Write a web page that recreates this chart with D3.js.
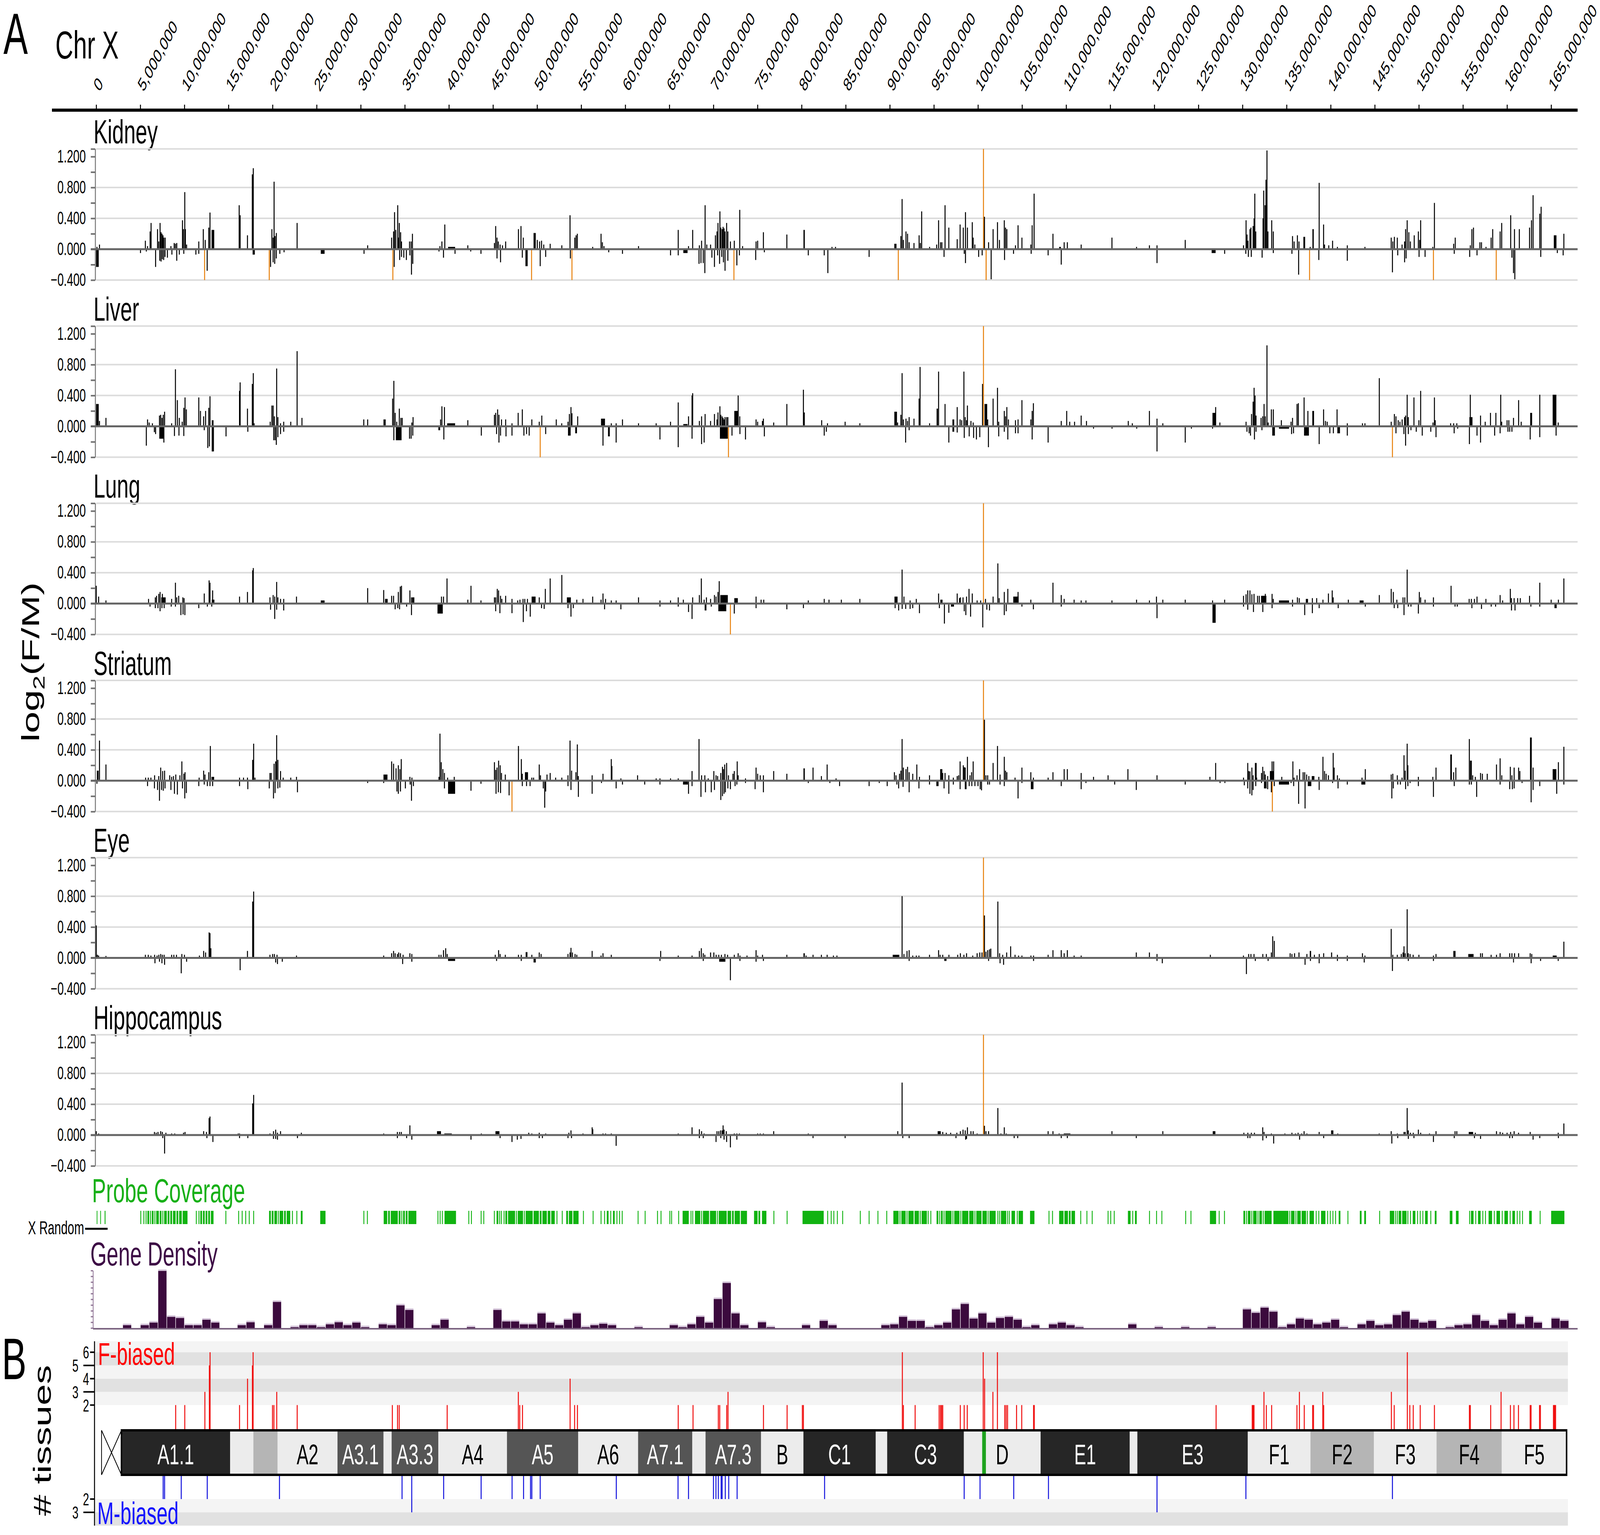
<!DOCTYPE html>
<html>
<head>
<meta charset="utf-8">
<script src="https://cdn.jsdelivr.net/npm/d3@7"></script>
<style>
html, body { margin: 0; padding: 0; width: 100%; height: 100%; overflow: hidden; background: #fff; }
#chart svg { display: block; width: 100vw; height: 100vh; }
text { font-family: "Liberation Sans", Arial, sans-serif; }
</style>
</head>
<body>
<div id="chart"></div>
<script>
"use strict"

// log2(F/M) per probe: [position Mb, value, optional span Mb]. values outside -0.4..1.3 are clipped (orange)
const kidney = [
[0.13,-0.23,0.3],[0.08,0.03],[0.37,0.06],[5.02,-0.05],[5.57,0.11],[5.68,-0.03],[5.82,0.04],[6.11,0.23],[6.22,0.34],[6.73,-0.23],[6.95,0.26],[7.09,0.1],[7.24,0.34],[7.35,0.22],[7.46,0.2],[7.57,0.18],[7.67,0.15],[7.82,0.15],
[7.2,-0.15],[7.35,-0.16],[7.5,-0.13],[7.65,-0.14],[7.8,-0.1],[8.07,-0.11],[8.47,0.04],[8.58,-0.07],[8.84,0.08],[8.98,0.07],[9.13,0.08],[9.13,-0.15],[9.42,-0.07],[9.78,0.375],[9.89,0.26],[10.04,0.74],[10.11,0.26],[10.25,0.06],[9.93,-0.06],
[11.3,-0.07],[11.63,0.1],[11.63,-0.06],[12.14,0.26],[12.29,-0.6],[12.36,0.12],[12.58,-0.28],[12.76,0.28],[12.9,0.475],[13.23,0.25,0.3],
[16.21,0.57],[16.32,0.44],[17.15,0.18],[17.7,0.97],[17.81,1.05],[17.86,-0.07,0.25],
[19.62,-0.6],[19.77,-0.23],[19.92,0.26],[20.06,0.15],[20.06,-0.17],[20.17,0.875],[20.24,-0.19],[20.28,0.17],[20.42,0.21],[20.42,-0.12],[20.82,-0.06],[21.3,-0.04],[22.78,0.34],
[25.68,-0.06,0.43],[30.37,-0.06],[30.78,0.05],
[33.5,0.15],[33.64,-0.6],[33.72,0.23],[33.79,-0.23],[33.83,0.48],[33.97,0.25],[34.19,0.57],[34.26,0.15],[34.37,0.34],[34.41,-0.14],[34.52,0.22],[34.62,0.1],[34.62,-0.1],[34.88,-0.11],[35.17,-0.14],[35.53,0.1],[35.57,-0.08],[35.71,0.1],[35.75,-0.33],[35.86,0.2],[35.9,-0.19],
[38.87,-0.03],[38.98,0.04],[39.2,0.1],[39.38,-0.11],[39.53,0.32],[40.3,0.03,0.8],[40.69,-0.06],[42.14,0.05],[42.47,-0.03],[43.63,-0.06],
[45.16,0.08],[45.3,0.3],[45.45,0.15],[45.45,-0.12],[45.6,0.1],[45.8,0.06],[45.85,-0.17],[46.07,0.05],[46.43,0.1],
[47.88,0.26],[48.17,0.3],[48.32,-0.11],[48.43,0.15],[48.8,-0.22,0.25],[49.37,-0.6],[49.72,0.21,0.25],[50.02,0.12],[50.28,0.1],[50.35,-0.22],[50.5,0.11],[50.75,0.06],[50.97,-0.1],[51.48,0.07],[52.8,0.05],
[53.73,0.44],[53.77,-0.12],[53.95,-0.6],[54.27,0.15],[54.42,0.18],[54.56,0.2],[56.3,0.03],
[57.25,0.2],[57.4,0.09],[57.58,0.04],[58.12,-0.04],[59.68,-0.06],[61.5,0.04],[65.13,-0.08],[66.0,0.25],[66.0,-0.08],[66.82,-0.05,0.48],[67.17,0.04],[67.64,0.25],
[68.36,-0.19],[68.4,0.05],[68.58,-0.18],[68.65,0.11],[68.84,-0.18],[69.02,-0.31],[69.05,0.57],[69.24,0.06],[69.67,0.06],[69.82,-0.11],[70.11,-0.23],[70.22,0.18],[70.4,0.23],[70.47,-0.08],[70.51,0.34],[70.69,-0.19],[70.73,0.49],[70.83,0.28],[70.94,-0.1],[70.98,0.26],[71.09,0.29],[71.13,-0.17],[71.2,0.27],[71.31,0.23],[71.31,-0.28],[71.49,0.34],[71.63,0.23],[71.63,-0.15],[71.92,0.1],[72.32,-0.6],[72.36,0.11],[72.65,-0.21],[72.94,-0.08],[72.98,0.51],[73.3,0.04],
[74.79,-0.14],[74.83,0.1],[75.01,0.11],[75.66,0.22],[75.77,-0.04],[78.32,0.19],[80.28,0.25,0.15],[80.75,-0.08],[82.56,-0.08],[82.97,-0.31],[83.44,0.03],[83.84,0.03],[87.65,-0.1],
[90.63,0.07,0.25],[90.96,-0.6],[91.25,0.17],[91.39,0.65],[91.54,0.12],[91.83,0.23],[92.01,0.2],[92.19,0.09],[92.74,0.08],[93.32,0.18],[93.46,0.08],[93.61,0.49],[94.51,0.03],
[95.31,0.06],[95.53,0.375],[95.75,0.09],[95.9,0.09],[96.15,-0.1],[96.26,0.57],[96.69,0.28],[97.64,0.13],[97.97,0.32],[98.33,0.28],[98.44,-0.06],[98.58,0.48],[98.58,-0.18],[98.8,0.28],[99.35,0.35],[99.45,0.15],[99.64,0.06],[100.07,-0.1],[100.47,-0.08],[100.62,1.6],[100.73,0.42],[100.92,-0.6,0.12],
[101.2,0.09],[101.49,-0.39],[101.71,0.26],[102.21,0.35],[102.43,0.12],[102.98,0.375],[103.01,-0.14],[103.12,0.28],[103.27,0.26],[104.03,-0.06],[104.25,0.05],[104.54,0.31],[104.98,0.15],[105.99,0.06],[106.03,-0.06],[106.14,0.31],[106.36,0.72],
[107.95,-0.08],[108.5,0.2],[109.3,0.03,0.2],[109.44,-0.2],[109.77,0.09],[110.13,0.09],[111.7,0.06],
[115.19,0.15],[117.98,0.03],[119.44,0.05],[120.3,0.05],[120.3,-0.18],[123.5,0.12],[126.72,-0.05,0.45],[127.97,-0.06],
[130.11,0.05],[130.37,-0.06],[130.4,0.375],[130.51,0.19],[130.62,0.11],[130.66,-0.1],[130.84,0.26],[130.95,0.28],[130.99,-0.1],[131.2,0.3],[131.31,0.4],[131.39,0.72],[131.5,0.23],[132.22,-0.11],[132.33,0.4],[132.4,0.76],[132.55,0.57],[132.66,0.9],[132.77,1.28],[132.88,0.23],[133.31,0.375],[133.49,0.23],[133.49,-0.05],
[135.6,-0.06],[135.67,0.17],[135.85,0.1],[136.22,0.18],[136.36,-0.33],[136.4,0.1],[137.0,0.16,0.2],[137.6,-0.6],[137.67,0.03],[138.0,0.26,0.15],[138.65,-0.14],[138.69,0.86],[139.19,0.32],[139.3,0.06],[139.78,0.05],[140.21,0.11],[140.76,0.03],[141.88,0.05],[141.88,-0.15],[143.88,0.03],
[146.86,0.15],[147.0,-0.3],[147.04,0.1],[147.22,0.16],[147.55,0.15],[147.6,-0.08],[148.09,0.06],[148.38,0.1],[148.38,-0.17],[148.49,0.26],[148.55,-0.12],[148.67,0.375],[148.86,0.22],[149.04,0.1],[149.47,0.18],[149.94,0.23],[150.02,-0.1],[150.09,0.12],[150.2,0.375],[150.7,-0.1],[151.58,0.03],[151.65,-0.6],[151.76,0.6],
[153.94,0.07],[154.01,-0.06],[154.12,0.15],[155.76,-0.1],[155.83,0.05],[156.01,0.26],[156.19,0.28],[156.59,-0.08],[156.92,0.09],[157.1,0.09],[157.61,0.03],[158.19,0.15],[158.37,0.26],[158.77,-0.6],[159.21,0.23],[159.39,0.34],[160.41,0.44],[160.55,-0.11],[160.73,-0.31],[160.84,0.26],[160.88,-0.39],[161.39,0.26],[162.55,0.28],[162.77,0.375],[162.95,0.7],[163.71,0.46],[163.82,-0.1],[163.86,0.55],[165.45,0.18,0.3],[165.7,-0.05],[166.36,-0.08],[166.44,0.2]
];

const liver = [
[0.13,0.29,0.3],[0.37,0.07],[1.1,0.11],[5.68,-0.25],[5.82,0.09],[6.0,0.05],[6.37,0.04],[6.59,-0.075],[6.73,-0.1],[7.17,0.14],[7.31,0.15],[7.46,0.11],[7.6,0.15],[7.75,0.19],[7.4,-0.16,0.5],[7.67,-0.21],
[8.55,0.04],[8.87,-0.125],[8.98,0.74],[9.2,0.34],[9.38,-0.12],[9.42,0.11],[9.75,0.06],[9.93,0.24],[9.93,-0.125],[10.07,0.375],[10.22,0.22],
[11.63,0.375],[11.82,0.2],[12.18,0.13],[12.25,-0.05],[12.4,0.2],[12.65,-0.28],[12.76,0.24],[12.83,-0.26],[12.9,0.39],[13.2,0.08,0.2],[13.22,-0.325,0.25],[14.72,-0.13],
[16.25,0.46],[16.32,0.57],[17.15,0.23],[17.19,-0.07],[17.7,0.55],[17.81,0.69],[17.9,0.04],
[19.73,0.06],[19.92,0.27],[20.06,0.27],[20.13,-0.18],[20.2,0.13],[20.28,-0.18],[20.42,-0.24],[20.46,0.75],[20.6,0.12],[20.6,-0.14],[20.9,0.04],[20.9,-0.1],[21.26,0.06],[21.26,-0.07],[22.06,0.06],[22.78,0.975],[23.33,0.11],
[30.34,0.09],[30.78,0.09],[32.7,0.09,0.25],[33.61,0.36],[33.75,0.59],[33.75,-0.18],[33.9,0.175],[34.08,0.06],[34.3,-0.18,0.65],[34.37,0.23],[34.55,0.11],[34.7,0.11],[35.53,-0.16],[35.71,-0.16],[35.79,0.05],[35.9,-0.12],[35.93,0.12],
[38.9,-0.05,0.2],[39.05,0.09],[39.2,0.26],[39.42,-0.17],[39.49,0.25],[40.25,0.04,0.9],[42.14,0.08],[43.67,-0.12],
[45.16,0.15],[45.3,0.175],[45.52,0.22],[45.67,0.15],[45.67,-0.21],[45.4,-0.1],[45.85,-0.12],[45.96,0.09],[46.43,0.09],[46.47,-0.13],[47.15,0.04],[47.15,-0.12],[47.85,0.175],[48.32,0.22],[48.5,-0.12],[48.8,-0.1],[49.1,-0.12],[49.4,0.09],[50.24,0.06],[50.35,-0.6],[50.53,0.14],[50.97,-0.1],[52.17,0.09],[52.79,0.04],
[53.5,0.06],[53.66,0.16],[53.65,-0.12,0.3],[53.84,0.25],[53.95,0.17],[54.42,-0.09,0.2],[54.6,0.13],
[57.47,0.1,0.45],[57.47,-0.25],[58.14,-0.13,0.2],[58.41,0.04],[58.96,0.04],[58.96,-0.21],[59.68,0.09],[61.5,0.04],[63.5,0.04],[63.93,-0.17],[65.13,0.06],[66.0,0.31],[66.0,-0.27],[66.82,0.03,0.48],[67.17,0.13],[67.57,0.4],[67.64,0.43],[67.57,-0.16],
[68.4,0.07],[68.65,0.13],[68.65,-0.23],[68.94,-0.21],[69.05,0.16],[69.67,0.07],[70.11,0.16],[70.4,0.09],[70.51,0.18],[70.73,0.26],[70.83,0.15],[70.98,0.13],[71.09,0.11],[71.2,0.09],[71.31,0.12],[71.49,0.12],[71.63,0.12],[71.18,-0.16,0.9],[71.7,-0.6],[72.1,-0.12],[72.56,0.2,0.4],[72.8,0.4],[72.98,0.13],[73.0,-0.1],[73.63,-0.17],
[74.83,0.09],[75.01,0.06],[75.55,0.07],[75.66,0.1],[75.77,-0.13],[76.83,0.05],[78.32,0.29],[80.2,0.475],[80.3,0.18],[82.27,0.08],[82.56,-0.12],[82.8,-0.07],[82.93,0.04],[84.93,0.06],[86.6,0.04],
[90.66,0.19,0.3],[90.88,0.05],[91.25,0.15],[91.39,0.69],[91.54,0.09],[91.79,-0.21],[91.83,0.1],[92.01,0.07],[92.19,0.12],[92.19,-0.05],[92.74,0.1],[93.32,0.36],[93.43,0.77],[94.51,0.04],
[95.38,0.23,0.15],[95.53,0.71],[96.26,0.29],[96.69,-0.21],[97.2,0.09,0.2],[97.2,-0.07,0.2],[97.64,0.25],[97.64,-0.08],[97.97,0.09],[98.15,0.08],[98.4,0.71],[98.44,-0.15],[98.55,0.12],[98.7,0.08],[98.8,0.27],[99.0,-0.13],[99.2,0.07],[99.45,0.05],[99.5,-0.15],[99.82,-0.17],[100.2,-0.14],[100.51,0.55],[100.62,1.6],[100.89,0.29,0.3],[101.1,0.09],[101.18,-0.27],[101.71,0.36],[102.21,0.5],[102.35,0.06],[102.35,-0.13],[102.98,0.2],[102.98,-0.07],[103.12,0.13],[103.27,0.25],[103.38,-0.17],[103.45,0.09],[104.25,0.08],[104.25,-0.09],[104.54,0.09],[104.54,-0.09],[104.98,0.34],[105.99,0.09],[106.14,0.2],[106.14,-0.17],[106.28,0.3],[107.95,-0.21],
[109.44,0.07],[110.06,0.2],[110.4,0.06],[110.95,0.06],[111.7,0.14],[112.3,0.07],
[113.1,-0.03],[115.2,-0.03],[117.04,0.07],[117.5,0.04],[118.0,-0.03],[119.44,0.2],[120.3,0.1],[120.3,-0.325],[120.96,0.04],[123.5,-0.21],[124.2,-0.03],[126.77,0.175,0.36],[126.95,0.25],[126.6,-0.03],[127.43,0.05],
[130.4,0.06],[130.5,-0.07],[130.75,-0.09],[130.9,-0.12],[131.02,0.16],[131.2,0.32],[131.31,0.5],[131.35,-0.17],[131.42,0.4],[131.53,0.14],[131.53,-0.07],[132.1,0.11],[132.2,-0.05],[132.29,0.13],[132.44,0.29],[132.58,0.13],[132.77,1.05],[132.91,0.05],[133.27,0.22],[133.49,0.22],[133.52,-0.12,0.3],[134.4,0.08],[134.7,-0.03,1.15],[135.5,0.06],[135.56,-0.1],[135.67,0.11],[135.78,-0.09],
[136.18,0.29],[136.33,0.3],[136.98,0.375],[137.25,-0.12,0.55],[137.41,0.2],[138.01,0.2,0.2],[138.69,-0.23],[139.19,0.22],[139.4,0.07],[139.6,0.06],[139.9,-0.09],[140.3,-0.09],[140.72,0.22],[140.9,-0.09,0.3],[141.88,0.04],[141.88,-0.12],[143.6,0.04],[143.88,0.04],[145.51,0.625],
[146.86,0.06],[147.0,-0.6],[147.22,0.16],[147.4,0.13],[147.4,-0.09],[147.65,0.08],[147.85,0.06],[148.1,0.09],[148.3,-0.1],[148.38,0.12],[148.49,0.14],[148.49,-0.25],[148.67,0.41],[148.8,0.12],[148.8,-0.1],[149.1,-0.05],[149.44,0.375],[149.7,-0.07],[150.0,0.08],[150.2,0.46],[150.38,-0.12],[151.35,-0.07],[151.6,0.05],[151.76,0.375],[151.85,0.08],[151.94,-0.14],
[153.6,0.04],[153.94,0.04],[154.0,-0.09],[154.3,0.04],[154.4,-0.03],[155.73,-0.23],[155.83,0.41],[155.9,0.12,0.35],[156.59,-0.12],[156.99,0.14],[156.99,-0.21],[157.52,0.06],[158.12,0.175],[158.59,-0.12],[158.73,0.175],[159.21,-0.09],[159.28,0.41],[159.39,0.06],[160.0,0.08],[160.1,-0.07],[160.2,0.08],[160.3,-0.07],[160.55,-0.07],[160.73,0.11],[161.31,0.34],[161.6,0.06],[162.62,-0.17],[162.73,0.175,0.22],[163.71,0.41],[163.71,-0.14],[165.38,0.41,0.42],[165.56,-0.12],[165.8,0.05]
];

const lung = [
[0.0,0.23],[0.27,0.09],[1.1,0.04],[5.93,0.06],[6.7,0.08],[6.84,0.1],[7.09,0.125],[7.24,0.15],[7.62,0.08,0.5],[7.5,0.125],[8.55,0.06],[8.98,0.27],[9.13,0.08],[9.35,0.1],[9.82,0.08],[9.96,0.07],
[6.1,-0.04],[6.7,-0.06],[7.0,-0.06],[7.24,-0.1],[7.45,-0.06],[7.7,-0.06],[8.5,-0.04],[8.98,-0.04],[9.6,-0.15],[9.85,-0.14],[10.05,-0.15],[11.63,-0.06],[12.6,-0.04],[13.1,-0.04],
[12.25,0.13],[12.8,0.3],[12.9,0.27],[13.25,0.05,0.3],[13.2,0.17],[16.25,0.09],[17.15,0.15],[17.74,0.43],[17.81,0.46],[19.7,0.08],[19.77,-0.08],[20.06,0.11],[20.24,0.09],[20.24,-0.2],[20.46,0.28],[20.46,-0.08],[20.6,0.08],[20.9,0.06],[21.26,0.06],[21.26,-0.09],[22.71,0.09],
[25.68,0.04,0.43],[30.78,0.2],[32.6,0.175],[32.9,0.06,0.3],[33.5,0.1],[33.72,0.1],[34.26,0.15],[34.48,0.22],[34.62,0.23],[33.9,-0.075],[34.2,-0.06],[34.4,-0.075],[35.2,-0.04],[35.57,0.17],[35.75,0.08],[35.75,-0.15],[35.95,0.08,0.25],
[39.0,-0.13,0.6],[39.15,0.09],[39.38,0.09],[39.78,0.325],[42.14,0.05],[42.5,0.23],[43.63,0.04],
[45.16,0.08],[45.3,0.08],[45.3,-0.1],[45.48,0.19],[45.63,0.17],[45.78,-0.125],[45.85,0.1],[46.0,0.06],[46.43,0.1],[47.15,0.06],[47.15,-0.125],[47.8,0.04],[48.05,0.05],[48.43,-0.24],[48.4,0.06],[48.6,0.06],[48.79,-0.1],[48.9,0.06],[49.22,-0.17],[49.6,0.09,0.45],[50.24,0.08],[50.5,-0.06],[50.8,-0.07],[50.93,0.19],[51.48,0.325],[52.8,0.37],
[53.5,-0.06],[53.6,0.08,0.45],[53.84,-0.17],[54.1,-0.06],[54.5,0.05],[55.2,0.06],[56.3,0.09],
[57.25,0.05],[57.47,0.13],[57.65,-0.075],[57.76,0.06],[58.41,0.04],[58.96,0.04],[59.5,-0.075],[61.5,0.08],[63.93,0.04],[63.93,-0.04],[65.13,0.04],[66.0,0.08],[66.0,-0.04],[66.58,0.05],[67.17,-0.11],[67.64,0.08],[67.57,-0.2],
[68.4,0.11],[68.62,0.325],[68.94,0.05],[69.1,-0.09,0.2],[69.2,0.08],[69.67,0.06],[69.75,-0.04],[70.11,0.11],[70.29,0.09],[70.51,0.15],[70.65,0.29],[71.2,0.11,0.85],[71.0,-0.1,0.9],[71.92,-0.6],[72.36,-0.13],[72.56,0.07,0.4],
[74.83,0.09],[74.83,-0.06],[75.4,0.05],[75.7,0.05],[78.32,-0.075],[80.2,-0.06],[80.75,0.04],[82.56,0.06],[83.1,0.05],[84.5,0.05],[86.6,0.06],
[90.7,0.09,0.35],[90.6,-0.06],[91.0,-0.09],[91.39,0.44],[91.6,0.09],[91.4,-0.07],[91.8,-0.07],[92.3,0.04],[92.3,-0.07],[92.6,-0.06],[93.0,0.06],[93.36,-0.125],
[95.53,0.13],[95.62,-0.06],[95.85,0.05,0.25],[96.19,-0.26],[96.69,-0.12],[97.1,-0.04,0.35],[97.64,0.13],[97.9,0.07],[98.0,0.08],[98.3,0.08],[98.44,-0.1],[98.62,-0.15],[98.7,0.09],[98.98,0.19],[99.16,-0.17],[99.35,0.13],[99.9,0.04],[100.3,0.04],[100.54,-0.31],[100.62,1.6],[100.85,0.06],[101.0,-0.08],[101.3,-0.09],[101.71,0.09],[102.25,0.52],[102.4,0.07],[102.98,0.15],[102.98,-0.15],[103.2,-0.1],[103.38,0.19],[104.3,0.09,0.6],[104.54,0.15],[104.98,-0.04],[105.99,0.05],[106.28,-0.075],
[108.5,0.27],[109.44,0.11],[109.44,-0.04],[109.77,0.06],[110.9,0.05],[111.7,0.04],
[112.24,0.04],[115.19,0.04],[117.98,0.05],[119.44,0.04],[120.24,0.09],[120.3,-0.19],[120.96,0.05],[123.5,0.05],[126.6,0.04],[126.77,-0.25,0.36],[127.97,0.05],
[130.11,0.1],[130.11,-0.04],[130.4,0.12],[130.59,0.17],[130.59,-0.08],[130.84,0.17],[131.06,0.12],[131.24,-0.11],[131.3,0.125],[131.7,0.1],[131.9,0.1],[132.3,-0.11],[132.4,0.1,0.6],[132.58,0.125],[133.35,0.125],[133.35,-0.06],[133.49,0.06],[134.7,0.04,1.15],[135.67,0.05],[135.67,-0.04],[136.22,0.08],[136.43,0.07],[137.05,-0.15],[137.3,0.06,0.25],[137.92,0.07],[137.92,-0.125],[138.41,0.07],[138.69,-0.06],[139.12,0.05],[139.74,0.13],[140.17,0.17],[140.28,0.08],[140.85,-0.06],[142.0,0.05],[143.5,0.04,0.45],[143.92,-0.04],
[145.51,0.11],[146.86,0.19],[147.1,0.15],[147.2,-0.06],[147.5,0.05],[147.6,-0.06],[148.2,0.08],[148.31,-0.15],[148.4,0.08],[148.67,0.44],[148.8,-0.04],[149.1,-0.04],[150.05,0.15],[150.2,0.08],[149.94,-0.13],[150.7,0.05],[151.65,0.08],[151.65,-0.04],[153.65,0.23],[154.1,-0.04],[154.35,-0.04],
[155.7,0.06],[155.95,0.06],[156.01,-0.06],[156.3,0.06],[156.59,0.09],[157.1,-0.07],[157.6,0.06],[158.2,-0.04],[158.7,-0.04],[159.21,0.11],[159.5,0.04],[160.37,0.19],[160.5,0.07],[160.5,-0.09],[160.8,0.07],[160.9,-0.09],[161.2,0.07],[161.5,0.07],[162.55,0.1],[162.7,-0.04],[163.71,0.27],[163.71,-0.04],[165.0,0.05],[165.5,-0.06,0.25],[165.82,0.05],[166.44,0.325]
];

const striatum = [
[0.17,0.13,0.2],[0.37,0.52],[1.1,0.21],[0.08,-0.04],[5.6,0.04],[5.9,0.04],[6.2,0.04],[5.82,-0.07],[6.62,0.07],[7.09,0.06],[7.31,0.17],[7.53,0.125],[7.75,0.13],[6.6,-0.1],[6.95,-0.12],[7.17,-0.26],[7.4,-0.12],[7.6,-0.13],[7.8,-0.1],
[8.33,0.07],[8.55,0.05],[8.76,0.06],[8.47,-0.12],[8.87,-0.17],[9.02,0.08],[9.2,-0.18],[9.49,0.07],[9.71,0.25],[9.78,-0.1],[9.93,0.09],[10.04,-0.23],[10.07,0.11],[10.22,-0.16],[11.63,-0.07],[11.67,0.04],
[12.18,0.13],[12.25,-0.05],[12.33,0.08],[12.76,0.11],[12.94,0.45],[12.6,-0.07],[12.9,-0.07],[13.2,-0.07],[13.22,0.05,0.3],[16.25,0.04],[16.25,-0.07],[16.7,0.04],[17.15,0.04],[17.19,-0.11],[17.74,0.27],[17.85,0.48],[18.0,0.04],
[19.7,0.1],[19.84,0.1],[19.62,-0.1],[20.1,-0.23],[20.17,0.22],[20.28,-0.16],[20.35,0.25],[20.46,0.59],[20.6,0.27],[20.6,-0.1],[20.9,0.125],[20.82,-0.09],[21.2,0.04],[22.06,0.04],[22.71,0.05],[22.82,-0.15],[30.78,-0.03],
[32.8,0.08,0.45],[32.6,-0.03],[33.5,0.25],[33.72,0.22],[34.0,0.16],[34.26,0.2],[34.44,0.15],[34.59,0.28],[34.1,-0.14],[34.26,-0.17],[34.5,-0.14],[35.06,-0.1],[35.57,0.05],[35.6,-0.05],[35.75,-0.26],[35.8,0.04],[35.97,-0.07],
[38.87,0.05],[38.98,0.61],[39.13,0.24],[39.31,0.15],[39.49,0.1],[39.49,-0.1],[39.85,0.04],[40.3,-0.17,0.8],[40.6,0.05],[42.5,-0.13],[43.63,-0.04],
[45.16,0.24],[45.3,0.14],[45.45,0.17],[45.63,0.26],[45.34,-0.17],[45.6,-0.15],[45.81,0.2],[45.85,-0.16],[45.96,0.1],[46.39,0.08],[46.82,-0.19],[47.15,-0.6],[47.88,0.45],[48.21,0.28],[48.32,0.09],[48.32,-0.07],[48.79,0.11,0.35],[48.8,-0.07],[49.2,-0.07],[49.4,0.04],[49.6,0.04],[50.24,0.21],[50.38,0.07],[50.7,-0.1],[50.86,-0.35],[50.97,-0.14],[51.12,0.08],[51.48,0.1],[52.1,0.04],[52.8,0.04],
[53.5,0.07],[53.5,-0.07],[53.73,0.52],[53.84,-0.12],[53.91,0.13],[54.4,0.11],[54.56,0.47],[54.68,-0.21],[54.67,0.06],[56.24,0.07],[56.24,-0.17],
[57.47,0.09],[57.3,-0.03],[58.41,0.28],[58.48,0.19],[58.96,-0.1],[59.5,0.03],[59.68,-0.05],[61.39,0.07],[62.2,-0.05],[63.5,0.03],[63.93,0.03],[63.93,-0.05],[65.13,0.03],[66.0,0.03],[66.82,-0.05,0.55],[67.17,-0.17],[67.57,0.125],[67.57,-0.07],
[68.36,0.54],[68.58,-0.21],[68.65,0.07],[69.02,0.07],[69.09,-0.15],[69.4,0.03],[69.75,-0.15],[70.04,0.125],[70.11,-0.12],[70.29,0.07],[70.47,0.06],[70.83,0.1],[70.83,-0.25],[71.02,0.18],[71.13,0.15],[71.02,-0.2],[71.2,-0.17],[71.27,0.21],[71.49,0.23],[71.35,-0.15],[71.63,-0.1],[71.7,0.07],[71.92,-0.11],[72.21,0.09],[72.36,0.125],[72.45,-0.07],[72.65,-0.05],[72.69,0.25],[72.8,0.07],[73.63,0.03],[73.63,-0.03],
[74.72,-0.11],[74.83,0.17],[75.01,0.09],[75.3,0.07],[75.66,0.07],[75.66,-0.15],[76.83,0.125],[78.32,0.09],[80.28,0.16,0.15],[80.75,-0.03],[81.29,0.17],[82.24,0.06],[82.89,0.21],[83.2,-0.03],[83.9,0.03],[84.3,-0.07],[87.65,-0.07],[88.8,-0.03],[89.7,-0.07],
[90.52,0.11],[90.7,0.07],[90.8,-0.05],[91.1,0.09],[91.25,0.13],[91.39,0.54],[91.54,0.17],[91.0,-0.1],[91.5,-0.08],[91.83,0.15],[92.01,0.18],[92.19,0.11],[92.19,-0.15],[92.6,0.09],[93.06,0.21],[93.36,0.05],[93.3,-0.1],[94.5,0.07],[94.5,-0.05],[95.4,-0.07,0.25],
[95.83,0.15,0.25],[96.0,0.1],[96.26,0.1],[96.15,-0.1],[96.69,0.07],[96.69,-0.17],[97.2,0.04],[97.2,-0.05],[97.64,0.06],[97.8,0.07],[97.97,0.25],[97.97,-0.11],[98.33,0.2],[98.44,0.175],[98.55,0.17],[98.6,-0.11,0.2],[98.8,0.31],[99.0,-0.07],[99.09,0.07],[99.27,0.11],[99.3,-0.07],[99.45,0.25],[99.65,-0.07],[100.0,-0.07],[100.25,-0.11],[100.4,-0.125],[100.62,1.6],[100.73,0.79],[100.9,0.07],[101.1,0.07],[101.1,-0.05],[101.3,-0.05],[101.71,0.23],[102.21,0.45],[102.5,0.08],[102.5,-0.05],[102.98,0.31],[102.98,-0.07],[103.12,0.13],[103.27,0.11],[104.2,0.04],[104.54,-0.23],[104.98,0.17],[104.98,-0.03],[105.99,0.11],[106.14,-0.11,0.3],[106.28,0.04],
[107.95,0.04],[108.5,0.11],[109.44,-0.07],[109.77,0.15],[110.13,0.15],[111.7,0.1],[111.7,-0.11],
[112.24,-0.03],[113.1,0.05],[114.75,0.07],[115.5,-0.05],[117.0,0.15],[117.95,-0.12],[120.3,0.07],[123.5,-0.05],[126.3,0.05],[126.95,0.23],[127.45,-0.03],[128.0,-0.03],
[130.11,0.04],[130.2,-0.06],[130.59,0.23],[130.59,-0.1],[130.7,0.125],[130.84,0.12],[130.84,-0.17],[131.06,0.17],[131.06,-0.19],[131.2,0.07],[131.2,-0.12],[131.5,0.23,0.2],[131.5,-0.07],[131.6,0.04],[132.15,0.1],[132.15,-0.03],[132.29,0.18],[132.45,0.125],[132.58,0.08],[132.58,-0.1,0.3],[132.85,0.06],[132.85,-0.11],[133.3,0.125,0.4],[133.35,0.25],[133.53,0.25],[133.27,-0.15],[133.38,-0.6],[133.6,-0.07],[134.45,0.05],[134.7,-0.05,1.15],[135.5,-0.03],[135.71,0.25],[135.85,0.04],[135.8,-0.07],[136.18,0.07],[136.36,-0.3],[136.47,0.15],[136.87,0.11],[137.05,0.11],[137.09,-0.36],[137.27,0.08],[137.52,0.06],[137.6,-0.07,0.4],[138.0,0.06,0.3],[138.65,0.05],[138.69,-0.12],[139.12,0.31],[139.3,0.125],[139.48,0.09],[139.74,0.07],[140.21,-0.03],[140.28,0.36],[140.39,0.17],[140.76,0.07],[140.83,-0.1],[140.98,0.03],[141.88,-0.05],[143.55,0.04],[143.7,-0.05,0.45],[143.92,0.15],
[146.86,0.08],[146.93,-0.23],[147.04,0.09],[147.1,-0.1],[147.55,0.07],[147.6,-0.05],[147.9,-0.05],[148.09,0.04],[148.31,0.33],[148.45,0.13],[148.49,-0.11],[148.67,0.48],[148.75,0.2],[148.75,-0.07],[149.0,-0.03],[149.94,0.05],[149.94,-0.07],[151.58,0.05],[151.65,-0.21],[151.94,0.17],
[153.65,0.34,0.18],[153.94,0.11],[154.01,-0.07],[154.19,0.17],[155.72,0.54],[155.72,-0.05],[155.9,0.26,0.2],[155.95,-0.05],[156.1,0.07],[156.4,0.05],[156.55,-0.21],[156.99,0.1],[157.2,0.09],[157.75,0.09],[158.8,0.21],[159.21,0.29],[159.21,-0.05],[159.4,0.07],[160.37,0.18],[160.3,-0.11],[160.55,0.07],[160.6,-0.11],[160.8,0.17],[160.8,-0.1],[161.31,0.17],[161.45,0.125],[161.7,-0.03],[162.7,0.56,0.2],[162.73,-0.28],[162.95,0.17],[162.95,-0.12],[163.71,-0.07],[165.38,0.15,0.42],[165.63,-0.17],[165.82,0.24],[166.44,0.44],[166.44,-0.05]
];

const eye = [
[0.0,0.42],[0.13,0.04],[0.27,0.03],[1.1,0.025],[5.57,0.04],[5.9,0.04],[6.2,0.03],[6.62,0.04],[6.9,0.03],[7.1,0.04],[7.31,0.05],[7.5,0.04],[7.7,0.04],[8.55,0.04],[8.8,0.04],[9.1,0.04],[9.71,0.05],[10.0,0.04],
[6.66,-0.07],[7.17,-0.05],[7.45,-0.07],[7.75,-0.09],[9.64,-0.2],[10.25,-0.05],
[11.7,0.03],[12.18,0.09],[12.4,0.07],[12.8,0.33],[12.9,0.32],[13.0,0.125],[16.32,-0.16],[17.15,0.09],[17.74,0.73],[17.85,0.86],
[19.7,0.04],[20.0,0.05],[20.2,0.05],[20.5,0.04],[20.35,-0.06],[20.55,-0.08],[21.1,-0.05],[22.71,0.03],
[32.6,0.03],[33.5,0.06],[33.72,0.09],[33.9,0.06],[34.15,0.05],[34.3,0.07],[34.5,0.06],[34.8,0.04],[34.75,-0.08],[35.57,0.06],[35.79,0.05],[35.79,-0.05],
[38.87,0.04],[39.1,0.04],[39.38,0.1],[39.63,0.125],[39.8,0.05],[40.3,-0.04,0.8],[45.25,0.04],[45.63,0.1],[45.8,0.05],[46.39,0.04],[45.4,-0.04],[47.88,0.04],[48.2,0.04],[48.8,0.075,0.2],[48.2,-0.04],[49.4,0.04],[50.24,0.07],[50.45,0.05],[49.72,-0.06,0.25],
[53.5,0.05],[53.73,0.07],[53.84,0.13],[54.0,0.07],[54.3,0.05],[54.5,0.04],[56.24,0.09],
[57.25,0.03],[57.47,0.06],[58.41,0.04],[63.93,-0.04],[64.01,0.09],[66.0,0.03],[67.57,0.03],[68.4,0.09],[68.62,0.125],[68.84,0.06],[68.84,-0.04],[69.02,0.04],[69.67,0.07],[70.04,0.07],[70.3,0.04],[70.6,0.04],[70.9,0.04],[71.3,0.05],[71.6,0.04],[71.0,-0.05,0.7],[71.92,-0.29],[72.36,0.04],[72.8,0.06],[73.0,0.03],[73.0,-0.04],[73.8,0.03],[74.83,0.1],[74.83,-0.05],[75.01,0.03],[75.56,0.04],[75.66,-0.04],[78.32,0.04],[80.28,0.06,0.15],[80.5,0.03],[81.29,0.04],[82.24,0.04],[82.89,0.04],[83.6,0.03],[84.0,0.03],
[90.7,0.04,0.75],[91.39,0.8],[91.6,0.05],[91.95,0.09],[92.19,0.1],[92.19,-0.04],[92.6,0.03],[93.0,0.03],[93.3,0.03],[94.5,0.04],[95.53,0.1],[95.7,0.04],[96.0,0.04],[96.3,-0.04,0.25],[96.7,0.04],[97.7,0.04],[98.0,0.06],[98.4,0.04],[98.7,0.06],[99.4,0.03],[99.9,0.06],[100.2,0.07],[100.45,0.07],[100.62,1.6],[100.73,0.55],[100.9,0.08],[101.1,0.1],[101.3,0.11],[101.45,0.12],[101.2,-0.04],[102.25,0.73],[102.45,0.06],[102.5,-0.07],[102.8,0.04],[102.9,-0.09],[103.25,0.07],[103.7,0.15],[104.2,0.04],[104.6,0.03],[104.98,0.03],[106.0,0.03],[106.3,0.03],[106.3,-0.04],[107.95,0.04],[108.5,0.1],[109.44,0.1],[109.77,0.06],[110.13,0.1],[110.9,0.03],[111.7,0.03],
[117.95,0.07],[119.44,0.07],[120.3,0.05],[120.3,-0.04],[120.9,-0.07],[126.35,0.04],[130.1,0.03],[130.44,-0.21],[130.7,0.05],[130.95,0.05],[131.3,0.05],[131.45,-0.04],[132.3,0.05],[132.7,0.05],[132.9,-0.04],[133.27,0.07],[133.42,0.28],[133.6,0.22],[135.4,0.06],[135.6,0.05],[135.9,0.06],[136.4,0.07],[137.3,0.05],[137.09,-0.09],[137.7,0.09,0.15],[137.7,-0.04],[138.15,0.04],[138.7,0.05],[138.69,-0.07],[139.2,0.06],[140.1,0.07,0.12],[140.76,0.04],[140.76,-0.04],[141.88,0.03],[141.88,-0.04],[143.6,0.06],[143.88,0.03],[143.8,-0.06],
[146.86,0.375],[147.0,-0.17],[147.04,0.04],[147.55,0.04],[148.0,0.05],[148.2,0.07],[148.31,0.15],[148.45,0.06],[148.67,0.63],[148.8,0.06],[148.8,-0.04],[149.0,0.05],[149.35,0.04],[150.0,0.04],[151.65,0.03],[151.65,-0.04],[151.94,0.05],[154.03,0.09,0.25],[155.9,0.05,0.6],[156.99,0.06],[157.2,0.06],[158.19,0.04],[158.8,0.04],[159.21,0.06],[160.3,0.06],[160.55,0.06],[160.85,0.06],[160.73,-0.06,0.1],[161.31,0.06],[162.62,0.06],[162.8,0.05],[162.73,-0.07],[163.8,-0.04],[165.4,0.03,0.45],[165.8,-0.04],[166.44,0.21]
];

const hippocampus = [
[0.0,0.05],[0.27,0.02],[6.6,0.04],[6.8,0.03],[7.0,0.04],[7.31,0.05],[7.5,0.04],[7.9,0.03],[8.55,0.02],[8.9,0.02],[9.9,0.03],[10.07,0.04],[7.55,-0.04],[7.75,-0.24],
[12.18,0.05],[12.5,0.04],[12.8,0.22],[12.9,0.24],[12.55,-0.04],[13.23,-0.09],[16.1,0.02],[16.25,0.02],[16.25,-0.04],[17.19,-0.04],[17.74,0.41],[17.85,0.52],
[19.7,0.02],[20.1,0.05],[20.35,0.07],[20.55,0.03],[20.9,0.05],[20.1,-0.05],[20.35,-0.05],[20.55,-0.06],[22.82,-0.04],[23.26,0.03],
[32.6,0.02],[34.15,0.04],[34.4,0.04],[34.6,0.04],[34.15,-0.04],[35.2,-0.04],[35.57,0.125],[35.79,-0.06],
[38.87,0.05,0.45],[39.9,0.02,0.85],[42.5,-0.06],[43.67,0.02],[45.5,0.05,0.45],[45.8,-0.04],[47.15,-0.09],[47.75,-0.06],[48.17,-0.05],[49.05,0.03],[49.4,0.02],[50.24,0.03],[50.24,-0.04],[50.6,-0.04],[50.97,0.02],[53.6,0.03],[53.84,0.06],[53.5,-0.04],[53.9,-0.04],[55.2,0.02],[56.24,0.1],
[56.31,0.075],[57.47,0.02],[57.76,0.02],[58.41,0.02],[58.96,-0.14],[66.0,0.02],[67.57,0.1],[68.4,0.075],[68.4,-0.04],[68.65,0.05],[68.84,-0.04],[68.94,0.02],[70.29,-0.09],[70.4,0.05],[70.6,0.05],[70.8,0.06],[70.83,-0.04],[70.98,0.06],[71.09,0.125],[71.2,0.07],[71.2,-0.06],[71.45,0.05],[71.49,-0.09],[71.92,-0.16],[72.36,0.02],[72.65,0.02],[72.65,-0.06],[72.94,0.02],[75.01,0.02],[75.3,0.02],[75.66,0.02],[76.83,0.05],[80.75,0.02],[81.29,-0.04],[84.93,-0.04],
[90.9,0.05],[91.39,0.68],[91.47,-0.04],[92.19,-0.04],[95.6,0.05,0.35],[96.0,0.04],[96.4,0.03],[96.9,0.03],[97.6,0.03],[97.5,-0.04],[98.0,0.05],[98.3,0.07],[98.55,0.06],[98.8,0.1],[98.6,-0.06],[98.7,-0.05],[99.2,0.05],[99.45,0.05],[99.9,0.02],[100.62,1.6],[100.73,0.12],[100.9,0.05],[101.2,0.05],[102.25,0.35],[102.6,0.02],[102.98,0.1],[103.2,0.02],[104.1,-0.04],[104.5,-0.04],[107.95,0.05],[108.5,0.05],[109.2,0.02],[109.44,-0.04],[110.1,0.02,0.75],[110.13,-0.04],
[115.19,0.05],[117.95,-0.04],[120.96,0.05],[126.77,0.05,0.3],[130.15,0.03],[130.6,0.03],[131.0,0.03],[131.35,0.03],[130.6,-0.04],[130.84,-0.04],[132.29,0.1],[132.3,-0.07],[132.44,0.04],[132.7,-0.04],[133.27,0.02],[133.53,-0.11],[134.8,0.02],[135.6,0.03],[136.0,0.02],[136.3,0.03],[136.47,-0.06],[136.7,0.02],[136.98,0.05],[137.3,0.02],[138.69,0.04],[139.2,-0.04],[140.1,0.06],[140.2,0.06,0.2],[140.8,0.02],[145.5,0.02],[146.86,0.05],[146.93,-0.11],[147.55,0.02],[147.6,-0.04],[148.31,0.04],[148.45,0.04],[148.67,0.35],[148.8,0.06],[148.8,-0.05],[149.04,0.03],[149.36,0.03],[149.44,-0.04],[149.94,0.07],[150.2,0.03],[151.2,0.02],[151.65,-0.09],[151.94,0.05],[154.1,0.05],[154.3,0.05],[154.01,-0.04],[155.9,0.04,0.5],[156.3,-0.04],[156.4,0.03],[156.99,-0.05],[158.8,0.05],[159.21,0.04],[159.5,0.03],[160.0,0.03],[160.4,0.04],[160.8,0.05],[160.3,-0.04],[160.6,-0.04],[161.3,0.03],[162.62,0.04],[162.95,-0.06],[163.71,-0.04],[165.8,0.03],[165.82,-0.04],[166.44,0.15]
];

const tissueNames = ["Kidney", "Liver", "Lung", "Striatum", "Eye", "Hippocampus"];
const tissueSeries = [kidney, liver, lung, striatum, eye, hippocampus];

// chromosome axis ticks (Mb) and log2 ratio ticks
const posTicks = [0,5,10,15,20,25,30,35,40,45,50,55,60,65,70,75,80,85,90,95,100,105,110,115,120,125,130,135,140,145,150,155,160,165];
const ratioTicks = [-0.4,-0.2,0,0.2,0.4,0.6,0.8,1.0,1.2,1.3];
const ratioLabels = [-0.4,0,0.4,0.8,1.2];
const ratioGrid = [-0.4,0.4,0.8,1.3];

// probe coverage intervals [start, end] Mb
const probeCoverage = [
[0.05,0.12],[0.45,0.52],[0.95,1.05],
[5.0,5.1],[5.35,5.45],[5.6,5.7],[5.8,6.0],[6.1,6.2],[6.3,6.5],[6.6,6.7],[6.8,7.1],[7.2,7.4],[7.5,7.6],[7.7,8.0],[8.1,8.3],[8.4,8.6],[8.7,9.0],[9.1,9.3],[9.4,9.7],[9.8,10.35],
[11.3,11.4],[11.6,11.7],[11.8,12.0],[12.1,12.3],[12.4,12.6],[12.7,12.9],[13.0,13.3],
[14.65,14.75],[16.1,16.2],[16.5,16.6],[16.9,17.0],[17.3,17.4],[17.8,17.9],
[19.6,19.8],[19.9,20.1],[20.2,20.5],[20.6,20.7],[20.8,21.2],[21.3,21.5],[21.6,22.0],[22.2,22.3],[22.7,22.8],[23.2,23.4],
[25.4,26.0],[30.3,30.4],[30.7,30.8],
[32.6,33.0],[33.1,33.3],[33.4,34.2],[34.3,34.5],[34.6,34.7],[34.8,35.0],[35.1,35.3],[35.4,36.3],
[38.7,38.8],[38.95,39.05],[39.2,39.3],[39.5,40.8],[42.2,42.3],[42.5,42.6],[43.6,43.7],[43.9,44.0],
[45.1,45.2],[45.4,45.6],[45.7,45.8],[45.9,46.0],[46.2,46.3],[46.4,46.6],[46.7,47.5],[47.6,47.7],[47.8,48.4],[48.5,48.6],[48.7,49.5],[49.6,50.2],[50.3,50.5],[50.6,51.1],[51.2,51.5],[51.6,52.0],
[52.2,52.3],[52.8,52.9],[53.3,53.5],[53.6,54.0],[54.1,54.7],[55.2,55.3],[56.3,56.4],
[57.2,57.3],[57.6,57.7],[57.9,58.1],[58.3,58.4],[58.6,58.8],[59.0,59.1],[59.3,59.4],[59.6,59.7],
[61.4,61.5],[62.2,62.3],[63.6,63.7],[64.0,64.1],[65.0,65.1],[65.2,65.3],[66.0,66.1],
[66.5,67.2],[67.4,67.5],[67.6,67.7],[67.9,68.5],[68.6,68.7],[68.8,69.5],[69.6,70.3],[70.4,70.5],[70.6,71.5],[71.6,72.0],[72.1,72.3],[72.4,73.0],[73.1,73.8],
[74.6,75.0],[75.1,75.3],[75.5,76.0],[76.8,76.9],[78.3,78.4],
[80.1,82.5],[82.9,83.0],[83.3,83.4],[83.6,83.7],[84.0,84.1],[84.6,84.7],
[86.6,86.7],[87.6,87.7],[88.6,88.7],[89.6,89.7],
[90.4,91.0],[91.1,91.2],[91.3,91.8],[91.9,92.0],[92.1,92.7],[92.8,93.3],[93.4,93.5],[93.6,94.2],[94.3,94.4],[94.6,94.7],
[95.3,95.5],[95.6,95.7],[95.8,96.0],[96.1,96.2],[96.3,97.0],[97.1,97.2],[97.3,97.9],[98.0,98.1],[98.2,98.9],[99.0,99.5],[99.6,99.7],[99.8,100.4],[100.5,101.0],[101.1,101.2],[101.3,102.0],[102.2,102.3],[102.4,102.5],[102.6,103.2],[103.3,103.4],[103.5,103.6],[103.8,104.2],[104.4,104.5],[104.6,105.1],
[105.9,106.4],[108.0,108.1],[108.4,108.5],[109.2,109.7],[109.8,110.2],[110.3,110.5],[110.6,111.0],
[111.6,111.7],[112.3,112.4],[112.9,113.0],[114.7,114.8],[115.0,115.1],[115.4,115.5],
[117.0,117.3],[117.5,117.6],[117.8,118.0],[119.4,119.5],[120.2,120.3],[120.8,120.9],
[123.5,123.6],[124.1,124.2],[126.3,127.0],[127.3,127.4],[127.9,128.0],
[130.1,130.3],[130.4,130.5],[130.6,130.9],[131.0,131.1],[131.2,131.6],[131.7,131.8],[131.9,132.2],[132.3,132.4],[132.5,133.3],[133.5,135.2],[135.3,135.4],[135.5,135.9],[136.0,136.1],[136.2,136.6],[136.7,137.2],[137.3,137.4],[137.6,138.1],[138.3,138.4],[138.6,138.7],[138.9,139.4],[139.6,139.7],[139.9,140.0],[140.2,140.3],[140.5,140.6],[140.9,141.1],
[141.9,142.0],[143.3,143.5],[143.8,144.0],[145.5,145.6],
[146.7,147.2],[147.3,147.4],[147.5,147.6],[147.7,148.0],[148.1,148.6],[148.7,148.8],[149.0,149.1],[149.3,149.6],[149.8,149.9],[150.1,150.2],[150.4,150.5],[150.7,151.0],[151.3,151.4],[151.8,152.0],
[153.5,153.8],[154.2,154.5],
[155.7,155.8],[155.9,156.2],[156.4,156.5],[156.7,157.0],[157.2,157.3],[157.5,157.6],[157.9,158.3],[158.5,158.6],[158.8,159.2],[159.4,159.5],[159.7,160.1],[160.3,160.4],[160.6,160.9],[161.1,161.2],[161.4,161.5],[161.7,161.8],
[162.5,162.8],[163.7,163.8],[165.0,166.5]
];

// gene density per 1 Mb bin [bin start Mb, relative density]
const geneDensity = [
[3,0.55],[5,0.55],[6,1.0],[7,10],[8,2.0],[9,1.8],[10,0.55],[11,0.55],[12,1.5],[13,1.0],[16,0.55],[17,1.06],[19,0.55],[20,4.6],[22,0.2],[23,0.55],[24,0.55],[25,0.2],[26,0.7],[27,1.06],[28,0.55],[29,1.0],[30,0.2],[32,0.7],[33,0.55],[34,4.0],[35,3.2],[38,0.55],[39,1.5],[42,0.2],[45,3.2],[46,1.2],[47,1.2],[48,0.7],[49,0.7],[50,2.6],[51,1.0],[52,0.55],[53,1.5],[54,2.6],[55,0.2],[56,0.55],[57,0.8],[58,0.55],[61,0.2],[65,0.55],[66,0.2],[67,0.7],[68,2.0],[69,1.0],[70,5.1],[71,7.9],[72,2.6],[73,0.55],[75,1.06],[76,0.2],[80,0.55],[82,1.3],[83,0.55],[89,0.55],[90,0.7],[91,2.0],[92,1.3],[93,1.3],[94,0.2],[95,0.55],[96,1.0],[97,3.3],[98,4.25],[99,1.7],[100,2.6],[101,1.0],[102,1.8],[103,2.0],[104,1.5],[105,0.2],[106,0.55],[108,0.7],[109,1.0],[110,0.55],[111,0.2],[117,0.7],[120,0.2],[123,0.2],[126,0.2],[130,3.3],[131,2.7],[132,3.6],[133,2.9],[134,0.2],[135,0.7],[136,1.7],[137,1.5],[138,0.7],[139,1.0],[140,1.5],[141,0.2],[143,0.7],[144,1.3],[145,0.55],[146,0.7],[147,2.3],[148,2.9],[149,1.5],[150,1.0],[151,1.3],[153,0.2],[154,0.55],[155,0.7],[156,2.3],[157,1.3],[158,0.55],[159,1.5],[160,2.6],[161,0.7],[162,2.0],[163,1.0],[165,1.7],[166,1.3]
];
const densityTicks = [0,1,2,3,4,5,6,7,8,9,10];

// number of tissues with female / male biased expression [Mb, # tissues]
const fBiased = [
[9.01,2],[10.04,2],[12.32,3],[12.83,5],[12.91,6],[16.25,2],[17.16,4],[17.71,5],[17.79,6],[19.99,2],[20.15,2],[20.47,3],[22.79,2],[33.58,2],[34.17,2],[34.36,2],[39.8,2],[47.87,3],[48.03,2],[48.34,2],[53.74,4],[54.25,2],[54.57,2],[66.0,2],[67.68,2],[70.55,2],[70.71,2],[71.5,2],[71.65,3],[75.67,2],[78.35,2],[80.08,2],[80.2,2],[91.42,6],[91.54,2],[92.87,2],[95.59,2],[95.75,2],[95.87,2],[96.0,2],[97.99,2],[98.43,2],[98.78,2],[100.59,6],[100.75,4],[101.69,3],[102.2,6],[103.03,2],[103.19,2],[103.35,2],[104.37,2],[104.96,2],[106.3,2],[106.38,2],[127.0,2],[131.1,2],[131.2,2],[131.3,2],[132.43,3],[132.7,2],[133.3,2],[136.17,2],[136.45,3],[137.0,2],[137.95,2],[138.05,2],[139.1,3],[139.2,2],[146.88,3],[147.2,2],[148.69,6],[148.97,2],[149.36,2],[150.15,2],[151.76,2],[155.73,2],[155.83,2],[158.14,2],[159.32,3],[160.38,2],[160.78,2],[161.29,2],[162.62,2],[162.72,2],[163.68,2],[163.78,2],[165.26,2],[165.34,2],[165.42,2],[165.5,2]
];
const mBiased = [
[7.59,2],[7.75,2],[9.64,2],[12.59,2],[20.78,2],[34.68,2],[35.78,3],[39.4,2],[43.65,2],[47.16,2],[48.46,2],[49.25,2],[49.4,2],[50.35,2],[58.98,2],[65.98,2],[67.17,2],[70.0,2],[70.28,2],[70.55,2],[70.87,2],[70.98,2],[71.34,2],[71.73,2],[72.68,2],[82.6,2],[98.43,2],[100.23,2],[104.05,2],[107.99,2],[120.3,3],[130.38,2],[147.0,2]
];
const fTicks = [2,3,4,5,6];
const mTicks = [2,3];

// cytobands [start Mb, end Mb, stain, label]
const bands = [
[2.86,15.18,"dark","A1.1"],[15.18,17.82,"light",""],[17.82,20.57,"gray",""],[20.57,27.36,"light","A2"],[27.36,32.58,"dgray","A3.1"],[32.58,33.5,"light",""],[33.5,38.8,"dgray","A3.3"],[38.8,46.58,"light","A4"],[46.58,54.66,"dgray","A5"],[54.66,61.45,"light","A6"],[61.45,67.6,"dgray","A7.1"],[67.6,69.1,"light",""],[69.1,75.4,"dgray","A7.3"],[75.4,80.2,"light","B"],[80.2,88.4,"dark","C1"],[88.4,89.7,"light",""],[89.7,98.4,"dark","C3"],[98.4,107.1,"light","D"],[107.1,117.2,"dark","E1"],[117.2,118.07,"light",""],[118.07,130.6,"dark","E3"],[130.6,137.7,"light","F1"],[137.7,144.9,"gray","F2"],[144.9,152.0,"light","F3"],[152.0,159.4,"gray","F4"],[159.4,166.75,"light","F5"]
];
const centromere = [0.6, 2.86];
const xistPos = 100.67;

// ---------------------------------------------------------------
const width = 6467, height = 3930;
const font = '"Liberation Sans", Arial, sans-serif';
const stainFill = { dark: "#262626", dgray: "#555555", gray: "#b5b5b5", light: "#ececec" };
const stainText = { dark: "#fff", dgray: "#fff", gray: "#000", light: "#000" };

// laid out in a 6467 x 3930 box, stretched to fill whatever window it is shown in
const svg = d3.select("#chart").append("svg")
    .attr("viewBox", `0 0 ${width} ${height}`)
    .attr("preserveAspectRatio", "none")
    .style("background", "#fff");

const x = d3.scaleLinear().domain([0, 168]).range([389, 389 + 168 * 35.64]);
const xEnd = x(168);

// panel letters and chromosome title
svg.append("text").attr("x", 14).attr("y", 138).attr("font-size", 148).text("A");
svg.append("text").attr("x", 7).attr("y", 3531).attr("font-size", 150).text("B");
svg.append("text").attr("x", 224).attr("y", 150).attr("font-size", 100).text("Chr X");

// top position axis
svg.append("line")
    .attr("x1", 210).attr("x2", xEnd).attr("y1", 282).attr("y2", 282)
    .attr("stroke", "#000").attr("stroke-width", 8);

svg.append("g")
    .attr("transform", "translate(0,282)")
    .call(d3.axisTop(x).tickValues(posTicks).tickSize(14).tickSizeOuter(0)
        .tickFormat(d => d3.format(",")(d * 1e6)))
    .call(g => g.select(".domain").remove())
    .call(g => g.selectAll(".tick line").attr("stroke", "#000").attr("stroke-width", 4))
    .call(g => g.selectAll(".tick text")
        .attr("font-family", font).attr("font-size", 49).attr("fill", "#000")
        .attr("x", 0).attr("y", 0).attr("dy", 0)
        .attr("text-anchor", "start")
        .attr("transform", "translate(12,-45) rotate(-50)"));

// y axis title
const yTitle = svg.append("text")
    .attr("transform", "translate(158,1695) rotate(-90)")
    .attr("text-anchor", "middle")
    .attr("font-size", 100);
yTitle.append("tspan").text("log");
yTitle.append("tspan").attr("font-size", 66).attr("dy", 22).text("2");
yTitle.append("tspan").attr("dy", -22).text("(F/M)");

// tissue panels
tissueNames.forEach((name, i) => {
    const y0 = 638 + i * 453.6;
    const y = d3.scaleLinear().domain([-0.4, 1.3]).range([y0 + 79, y0 - 256.75]).clamp(true);
    const g = svg.append("g");

    g.append("text").attr("x", 378).attr("y", y0 - 271).attr("font-size", 85).text(name);

    g.selectAll(".grid").data(ratioGrid).enter().append("line")
        .attr("x1", 389).attr("x2", xEnd)
        .attr("y1", d => y(d)).attr("y2", d => y(d))
        .attr("stroke", "#dcdcdc").attr("stroke-width", 4);

    g.append("g")
        .attr("transform", "translate(385,0)")
        .call(d3.axisLeft(y).tickValues(ratioTicks).tickSize(18).tickSizeOuter(0).tickPadding(20)
            .tickFormat(d => ratioLabels.includes(d) ? d3.format(".3f")(d) : ""))
        .call(a => a.select(".domain").attr("stroke", "#7a7a7a").attr("stroke-width", 4))
        .call(a => a.selectAll(".tick line").attr("stroke", "#707070").attr("stroke-width", 4))
        .call(a => a.selectAll(".tick text").attr("font-family", font).attr("font-size", 46).attr("fill", "#000"));

    const data = tissueSeries[i];
    g.append("g").selectAll("rect").data(data).enter().append("rect")
        .attr("x", d => d[2] ? x(d[0] - d[2] / 2) : x(d[0]) - 2)
        .attr("width", d => d[2] ? x(d[0] + d[2] / 2) - x(d[0] - d[2] / 2) : 4)
        .attr("y", d => Math.min(y(d[1]), y(0)))
        .attr("height", d => Math.abs(y(d[1]) - y(0)))
        .attr("fill", d => (d[1] > 1.3 || d[1] < -0.4) ? "#e8820f" : "#000");

    g.append("line")
        .attr("x1", 367).attr("x2", xEnd).attr("y1", y(0)).attr("y2", y(0))
        .attr("stroke", "#656565").attr("stroke-width", 5);
});

// probe coverage
svg.append("text").attr("x", 372).attr("y", 3078).attr("font-size", 85)
    .attr("fill", "#17b017").text("Probe Coverage");
svg.append("g").selectAll("rect").data(probeCoverage).enter().append("rect")
    .attr("x", d => x(d[0]))
    .attr("width", d => Math.max(3, x(d[1]) - x(d[0])))
    .attr("y", 3100).attr("height", 34)
    .attr("fill", "#11b311");
svg.append("text").attr("x", 340).attr("y", 3160).attr("font-size", 48)
    .attr("text-anchor", "end").text("X Random");
svg.append("line").attr("x1", 344).attr("x2", 435).attr("y1", 3146).attr("y2", 3146)
    .attr("stroke", "#000").attr("stroke-width", 5);

// gene density
const gd = d3.scaleLinear().domain([0, 10]).range([3400, 3253]);
svg.append("text").attr("x", 365).attr("y", 3240).attr("font-size", 85)
    .attr("fill", "#3d0b45").text("Gene Density");
const gdBars = svg.append("g");
gdBars.selectAll("rect").data(geneDensity).enter().append("rect")
    .attr("x", d => x(d[0]) + 1)
    .attr("width", d => x(d[0] + 1) - x(d[0]) - 2)
    .attr("y", d => gd(d[1]))
    .attr("height", d => gd(0) - gd(d[1]))
    .attr("fill", "#3b0a3d");
gdBars.selectAll("line").data(geneDensity).enter().append("line")
    .attr("x1", d => x(d[0]) + 1).attr("x2", d => x(d[0] + 1) - 1)
    .attr("y1", d => gd(d[1]) - 1).attr("y2", d => gd(d[1]) - 1)
    .attr("stroke", "#d3c3d8").attr("stroke-width", 4);
svg.append("line").attr("x1", 376).attr("x2", xEnd).attr("y1", 3402).attr("y2", 3402)
    .attr("stroke", "#7b6481").attr("stroke-width", 4);
svg.append("g")
    .attr("transform", "translate(376,0)")
    .call(d3.axisLeft(gd).tickValues(densityTicks).tickSize(9).tickSizeOuter(0).tickFormat(""))
    .call(a => a.select(".domain").attr("stroke", "#8a6e90").attr("stroke-width", 3))
    .call(a => a.selectAll(".tick line").attr("stroke", "#8a6e90").attr("stroke-width", 3));

// B: number of tissues
const chrTop = 3662, chrBottom = 3776;
const yF = d3.scaleLinear().domain([0, 6.83]).range([3665, 3434]);
const yM = d3.scaleLinear().domain([0, 4]).range([3770, 3906]);
const stripeEnd = x(166.9);

const fStripes = [[2,3],[3,4],[4,5],[5,6],[6,6.83]];
svg.append("g").selectAll("rect").data(fStripes).enter().append("rect")
    .attr("x", 385).attr("width", stripeEnd - 385)
    .attr("y", d => yF(d[1])).attr("height", d => yF(d[0]) - yF(d[1]))
    .attr("fill", (d, i) => i % 2 ? "#e1e1e1" : "#f4f4f4");
const mStripes = [[2,3],[3,4]];
svg.append("g").selectAll("rect").data(mStripes).enter().append("rect")
    .attr("x", 385).attr("width", stripeEnd - 385)
    .attr("y", d => yM(d[0])).attr("height", d => yM(d[1]) - yM(d[0]))
    .attr("fill", (d, i) => i % 2 ? "#e1e1e1" : "#f4f4f4");

svg.append("line").attr("x1", 382).attr("x2", 382).attr("y1", 3434).attr("y2", 3906)
    .attr("stroke", "#000").attr("stroke-width", 4);

function countTicks(scale, ticks) {
    const g = svg.append("g");
    ticks.forEach(t => {
        const long = t % 2 === 1;
        g.append("line")
            .attr("x1", long ? 337 : 364).attr("x2", 382)
            .attr("y1", scale(t)).attr("y2", scale(t))
            .attr("stroke", "#000").attr("stroke-width", 4);
        g.append("text")
            .attr("x", long ? 317 : 360).attr("y", scale(t))
            .attr("dy", "0.36em").attr("text-anchor", "end")
            .attr("font-size", 45).text(t);
    });
}
countTicks(yF, fTicks);
countTicks(yM, mTicks);

svg.append("text").attr("x", 396).attr("y", 3494).attr("font-size", 80)
    .attr("fill", "#ff0000").text("F-biased");
svg.append("text").attr("x", 393).attr("y", 3902).attr("font-size", 80)
    .attr("fill", "#1414ff").text("M-biased");

svg.append("g").selectAll("rect").data(fBiased).enter().append("rect")
    .attr("x", d => x(d[0]) - 2).attr("width", 4)
    .attr("y", d => yF(d[1])).attr("height", d => chrTop - yF(d[1]))
    .attr("fill", "#f01010");
svg.append("g").selectAll("rect").data(mBiased).enter().append("rect")
    .attr("x", d => x(d[0]) - 2).attr("width", 4)
    .attr("y", chrBottom).attr("height", d => yM(d[1]) - chrBottom)
    .attr("fill", "#1515dd");

// chromosome ideogram
const chr = svg.append("g");
chr.selectAll("rect.band").data(bands).enter().append("rect")
    .attr("class", "band")
    .attr("x", d => x(d[0])).attr("width", d => x(d[1]) - x(d[0]))
    .attr("y", chrTop).attr("height", chrBottom - chrTop)
    .attr("fill", d => stainFill[d[2]]);
chr.append("rect")
    .attr("x", x(xistPos) - 7).attr("width", 15)
    .attr("y", chrTop).attr("height", chrBottom - chrTop)
    .attr("fill", "#1ea31e");
chr.selectAll("text").data(bands.filter(d => d[3])).enter().append("text")
    .attr("x", d => x((d[0] + d[1]) / 2)).attr("y", (chrTop + chrBottom) / 2 + 4)
    .attr("dy", "0.36em").attr("text-anchor", "middle")
    .attr("font-size", 72).attr("fill", d => stainText[d[2]])
    .text(d => d[3]);
chr.append("rect")
    .attr("x", x(bands[0][0])).attr("width", x(bands[bands.length - 1][1]) - x(bands[0][0]))
    .attr("y", chrTop).attr("height", chrBottom - chrTop)
    .attr("fill", "none").attr("stroke", "#000").attr("stroke-width", 6);
chr.append("path")
    .attr("d", `M${x(centromere[0])},${chrTop}L${x(centromere[0])},${chrBottom}` +
        `M${x(centromere[0])},${chrTop}L${x(centromere[1])},${chrBottom}` +
        `M${x(centromere[0])},${chrBottom}L${x(centromere[1])},${chrTop}`)
    .attr("fill", "none").attr("stroke", "#000").attr("stroke-width", 3);

svg.append("text")
    .attr("transform", "translate(206,3688) rotate(-90)")
    .attr("text-anchor", "middle").attr("font-size", 98).text("# tissues");
</script>
</body>
</html>
